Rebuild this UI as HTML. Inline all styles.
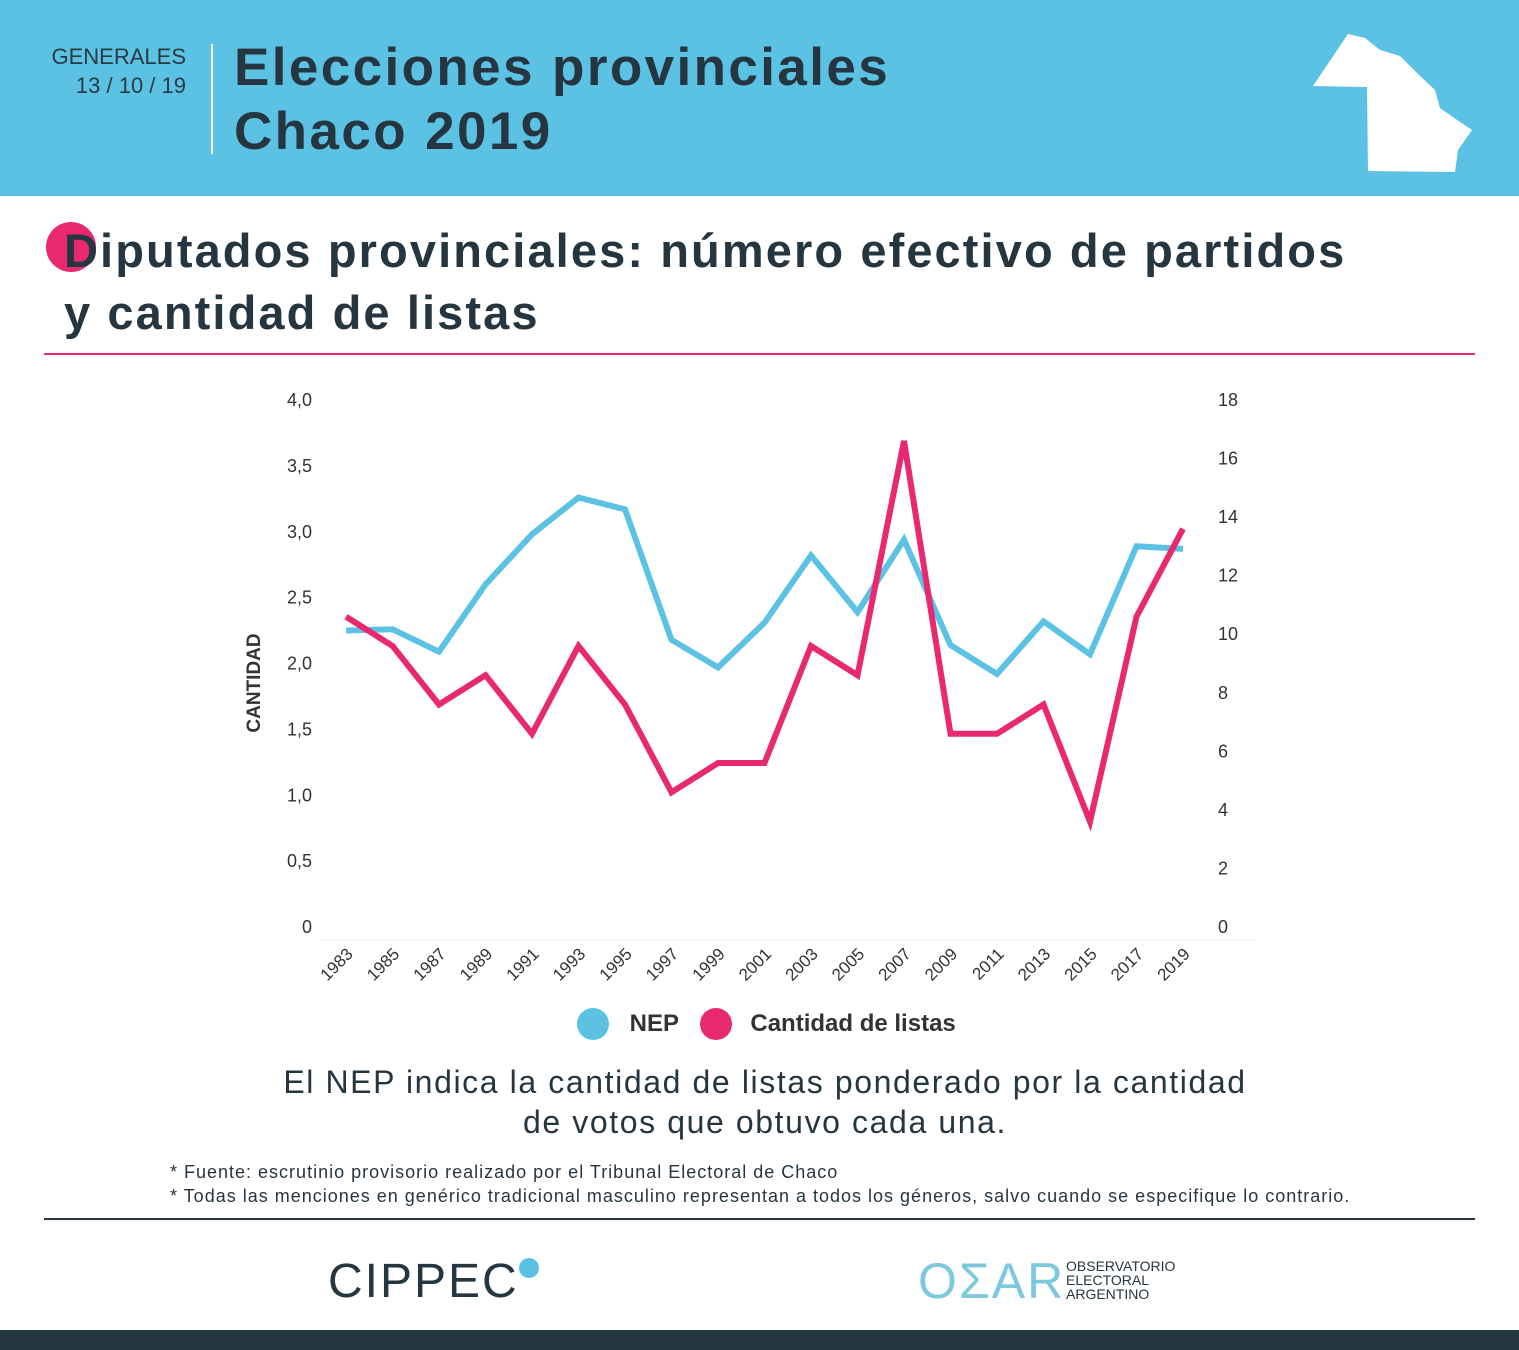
<!DOCTYPE html>
<html><head><meta charset="utf-8">
<style>
body{margin:0;width:1519px;height:1350px;position:relative;background:#fff;font-family:"Liberation Sans",sans-serif;overflow:hidden;color:#263640}
.abs{position:absolute}
</style></head><body>
<div class="abs" style="left:0;top:0;width:1519px;height:196px;background:#5bc2e4">
  <div class="abs" style="left:30px;top:42px;width:156px;text-align:right;font-size:22px;line-height:29px;color:#2b3a42">GENERALES<br>13 / 10 / 19</div>
  <div class="abs" style="left:211px;top:44px;width:2px;height:110px;background:#fff"></div>
  <div class="abs" style="left:234px;top:36px;font-size:53px;font-weight:bold;line-height:64px;letter-spacing:2.4px;color:#263640">Elecciones provinciales<br>Chaco 2019</div>
  <svg class="abs" style="left:1310px;top:30px" width="165" height="145"><path d="M3,56 L38,4 L55,8 L70,20 L90,26 L108,44 L125,60 L130,78 L150,92 L162,100 L148,120 L145,142 L58,141 L57,57 Z" fill="#fff"/></svg>
</div>
<div class="abs" style="left:46px;top:222px;width:50px;height:50px;border-radius:50%;background:#e8296f"></div>
<div class="abs" style="left:64px;top:220px;font-size:47px;font-weight:bold;line-height:62px;letter-spacing:2.1px;color:#263640">Diputados provinciales: número efectivo de partidos<br>y cantidad de listas</div>
<div class="abs" style="left:44px;top:353px;width:1431px;height:2px;background:#e8296f"></div>
<svg class="abs" id="chart" style="left:0;top:0" width="1519" height="1000"></svg>
<div class="abs" style="left:577px;top:1005px;font-size:24px;font-weight:bold;color:#333;line-height:36px;white-space:nowrap">
  <span style="display:inline-block;width:32px;height:32px;border-radius:50%;background:#5bc2e4;vertical-align:middle"></span>
  <span style="margin:0 14px 0 14px;vertical-align:middle">NEP</span>
  <span style="display:inline-block;width:32px;height:32px;border-radius:50%;background:#e8296f;vertical-align:middle"></span>
  <span style="margin-left:12px;vertical-align:middle">Cantidad de listas</span>
</div>
<div class="abs" style="left:165px;top:1062px;width:1200px;text-align:center;font-size:32px;line-height:40px;letter-spacing:1.6px;color:#263640">El NEP indica la cantidad de listas ponderado por la cantidad<br>de votos que obtuvo cada una.</div>
<div class="abs" style="left:170px;top:1160px;font-size:18px;line-height:24px;letter-spacing:1px;color:#263640;white-space:nowrap">* Fuente: escrutinio provisorio realizado por el Tribunal Electoral de Chaco<br>* Todas las menciones en genérico tradicional masculino representan a todos los géneros, salvo cuando se especifique lo contrario.</div>
<div class="abs" style="left:44px;top:1218px;width:1431px;height:2px;background:#263640"></div>
<div class="abs" style="left:328px;top:1254px;font-size:48px;letter-spacing:2px;color:#263640">CIPPEC<span style="display:inline-block;width:20px;height:20px;border-radius:50%;background:#5bc2e4;vertical-align:top;margin-top:4px"></span></div>
<div class="abs" style="left:918px;top:1252px;font-size:50px;color:#7cc9dd;letter-spacing:2px">OΣAR</div>
<div class="abs" style="left:1066px;top:1259px;font-size:14px;line-height:14px;color:#263640">OBSERVATORIO<br>ELECTORAL<br>ARGENTINO</div>
<div class="abs" style="left:0;top:1330px;width:1519px;height:20px;background:#263640"></div>
<script>
const years=["1983","1985","1987","1989","1991","1993","1995","1997","1999","2001","2003","2005","2007","2009","2011","2013","2015","2017","2019"];
const nep=[2.25,2.26,2.09,2.60,2.98,3.26,3.17,2.18,1.97,2.31,2.82,2.39,2.94,2.14,1.92,2.32,2.07,2.89,2.87];
const listas=[10.6,9.6,7.6,8.6,6.6,9.6,7.6,4.6,5.6,5.6,9.6,8.6,16.6,6.6,6.6,7.6,3.6,10.6,13.6];
const leftTicks=["0","0,5","1,0","1,5","2,0","2,5","3,0","3,5","4,0"];
const rightTicks=["0","2","4","6","8","10","12","14","16","18"];
const svg=document.getElementById('chart');
const NS='http://www.w3.org/2000/svg';
const y0=927,y1=400,x0=346,x1=1183;
const xs=i=>x0+(x1-x0)*i/(years.length-1);
const yl=v=>y0-(y0-y1)*v/4;
const yr=v=>y0-(y0-y1)*v/18;
function mk(t,a){const e=document.createElementNS(NS,t);for(const k in a)e.setAttribute(k,a[k]);svg.appendChild(e);return e;}
const base=mk('line',{x1:320,x2:1255,y1:940,y2:940,stroke:'#f2f2f2','stroke-width':1});


leftTicks.forEach((t,i)=>{const e=mk('text',{x:312,y:yl(i*0.5)+6,'text-anchor':'end','font-size':18,fill:'#333','font-family':'Liberation Sans'});e.textContent=t;

});
rightTicks.forEach((t,i)=>{const e=mk('text',{x:1218,y:yr(i*2)+6,'font-size':18,fill:'#333','font-family':'Liberation Sans'});e.textContent=t;

});
years.forEach((t,i)=>{const x=xs(i)+8,y=955;const e=mk('text',{x:x,y:y,'text-anchor':'end','font-size':17,fill:'#333','font-family':'Liberation Sans',transform:`rotate(-45 ${x} ${y})`});e.textContent=t;

});
const yt=mk('text',{x:260,y:683,'text-anchor':'middle','font-size':19,'font-weight':'bold',fill:'#333','font-family':'Liberation Sans',transform:'rotate(-90 260 683)'});yt.textContent='CANTIDAD';


const p1=mk('polyline',{points:nep.map((v,i)=>xs(i)+','+yl(v)).join(' '),fill:'none',stroke:'#5bc2e4','stroke-width':6,'stroke-linejoin':'miter'});


const p2=mk('polyline',{points:listas.map((v,i)=>xs(i)+','+yr(v)).join(' '),fill:'none',stroke:'#e8296f','stroke-width':6,'stroke-linejoin':'miter'});


</script>
</body></html>
